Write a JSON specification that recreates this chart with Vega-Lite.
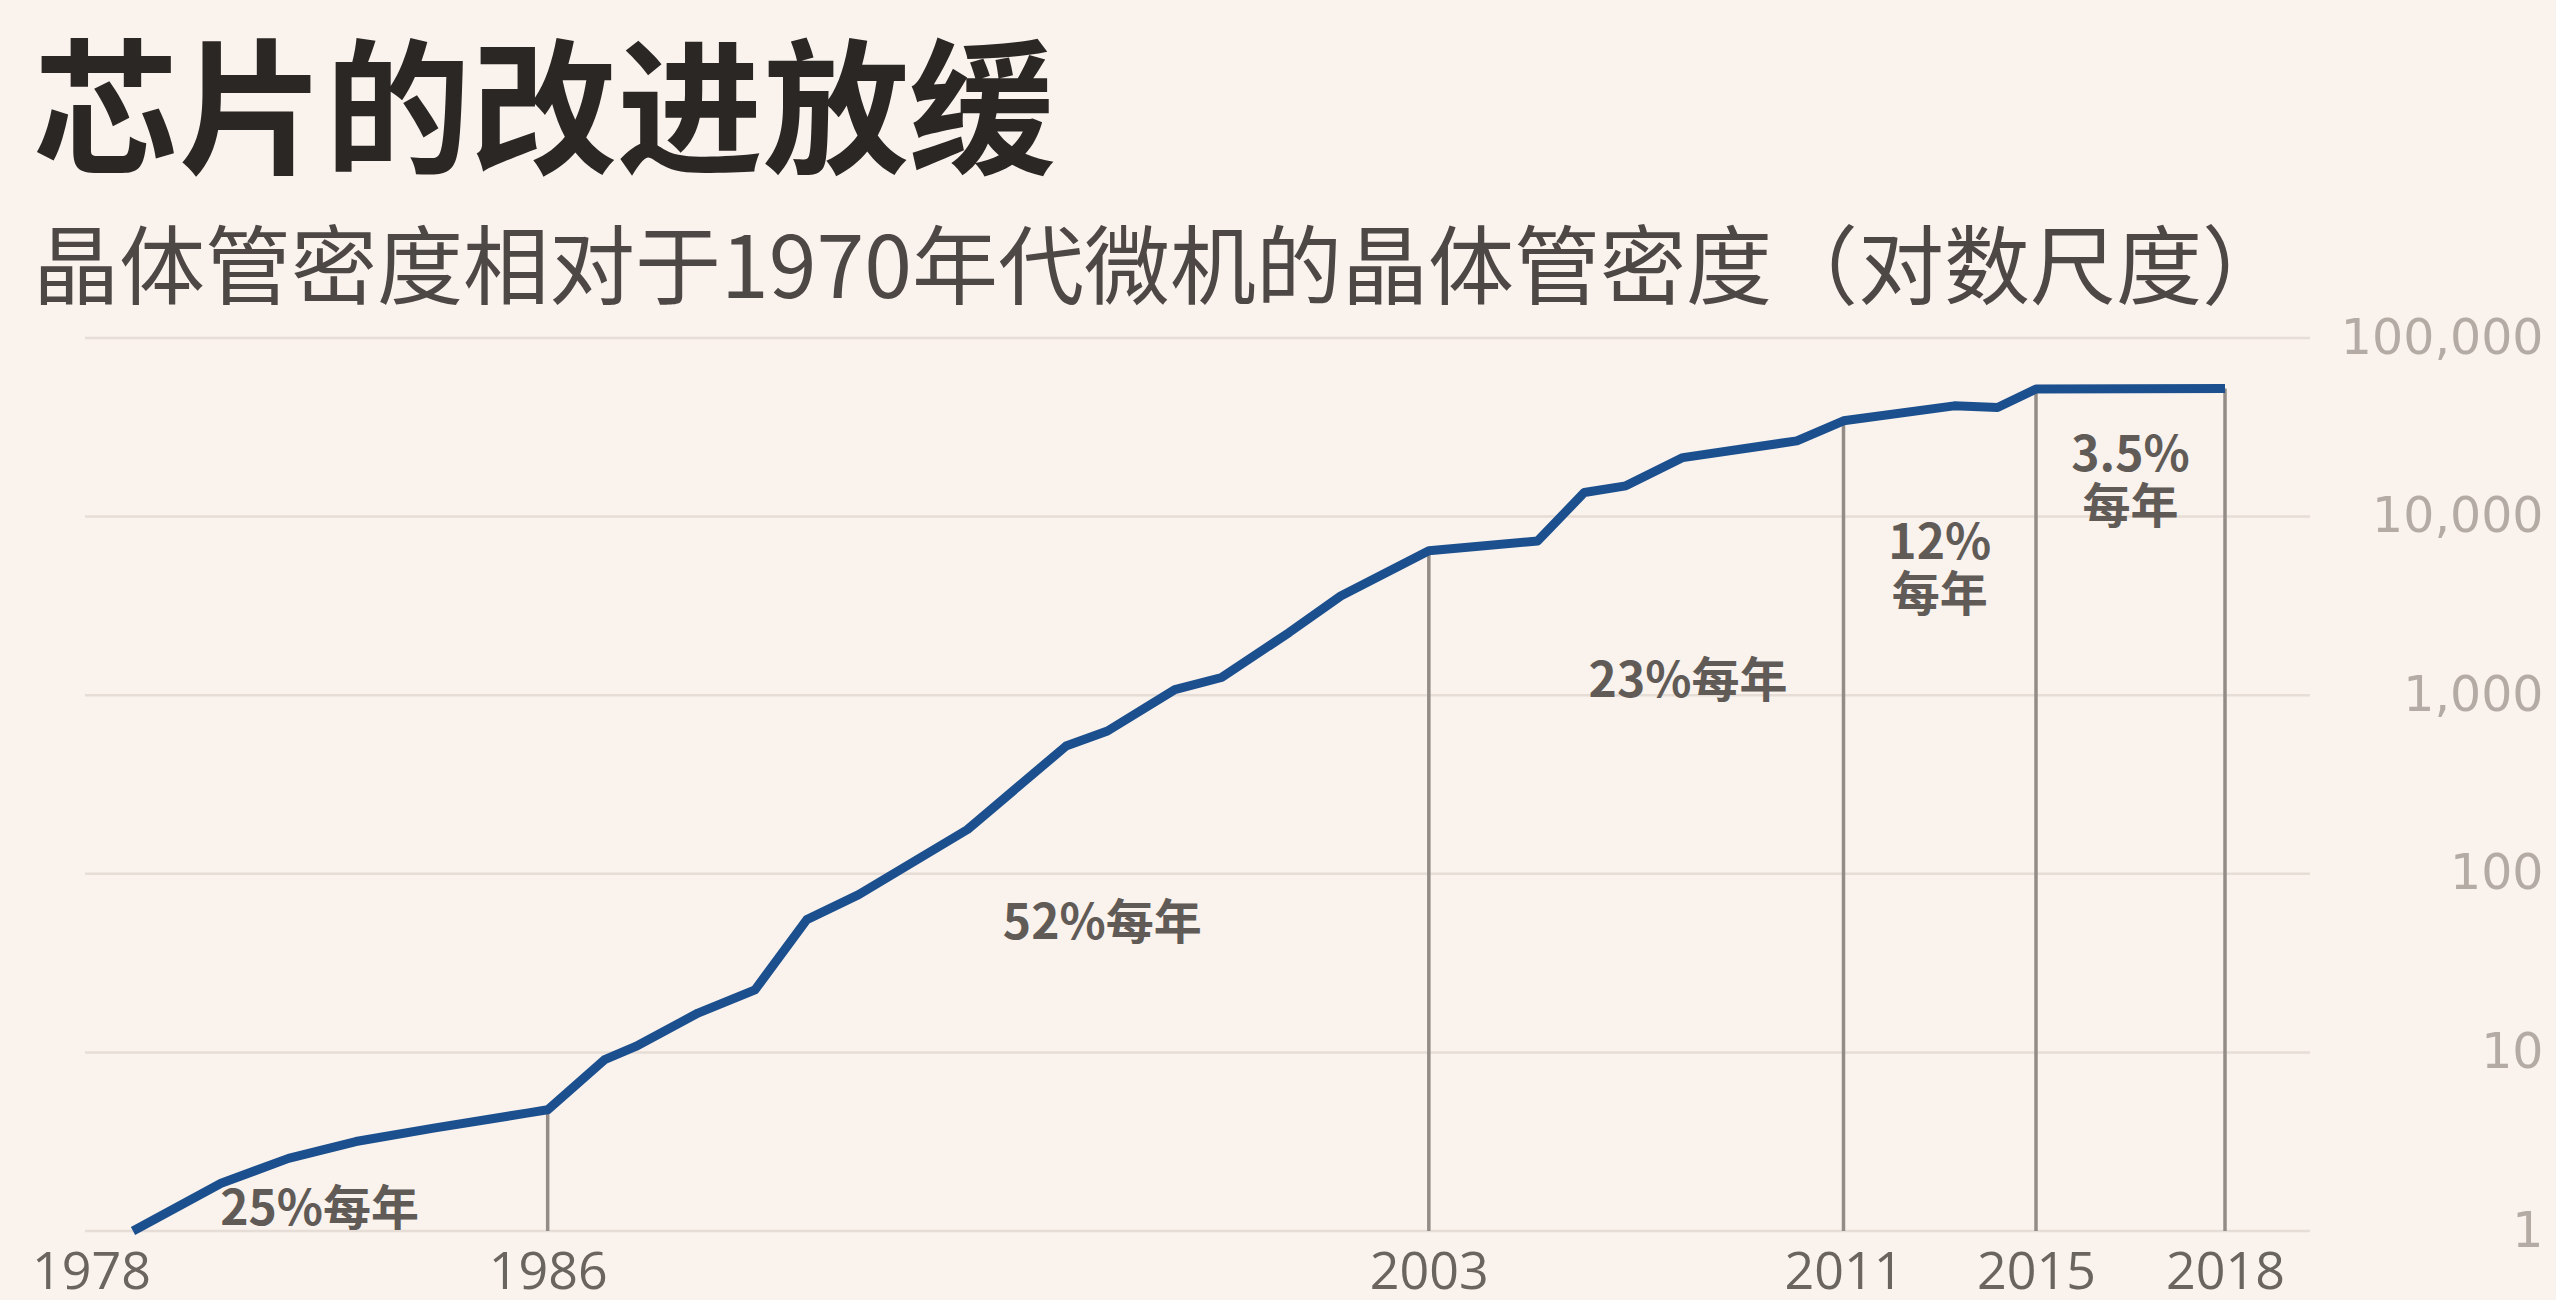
{
  "$schema": "https://vega.github.io/schema/vega-lite/v6.json",
  "width": 2225,
  "height": 893,
  "autosize": "none",
  "padding": {"left": 85, "top": 338, "right": 246, "bottom": 69},
  "background": "#f9f2ed",
  "title": {
    "text": "芯片的改进放缓",
    "subtitle": "晶体管密度相对于1970年代微机的晶体管密度（对数尺度）",
    "anchor": "start",
    "frame": "group",
    "dx": -52,
    "offset": -3,
    "font": "Noto Sans CJK SC",
    "fontSize": 146,
    "fontWeight": "bold",
    "color": "#2b2724",
    "subtitleFont": "Noto Sans CJK SC",
    "subtitleFontSize": 86,
    "subtitleFontWeight": "normal",
    "subtitleColor": "#4d4845",
    "subtitlePadding": 37
  },
  "config": {
    "view": {"stroke": null}
  },
  "datasets": {
    "grid": [
      {"value": 1}, {"value": 10}, {"value": 100}, {"value": 1000}, {"value": 10000}, {"value": 100000}
    ],
    "line": [
      {"year": 1978.0, "value": 1.0},
      {"year": 1979.7, "value": 1.85},
      {"year": 1981.0, "value": 2.55},
      {"year": 1982.3, "value": 3.17},
      {"year": 1983.8, "value": 3.77},
      {"year": 1985.6, "value": 4.57},
      {"year": 1986.0, "value": 4.77},
      {"year": 1987.1, "value": 9.1},
      {"year": 1987.7, "value": 10.8},
      {"year": 1988.9, "value": 16.6},
      {"year": 1990.0, "value": 22.4},
      {"year": 1991.0, "value": 55.4},
      {"year": 1992.0, "value": 76.4},
      {"year": 1994.1, "value": 177},
      {"year": 1996.0, "value": 519},
      {"year": 1996.8, "value": 630},
      {"year": 1998.1, "value": 1074},
      {"year": 1999.0, "value": 1256},
      {"year": 2000.3, "value": 2240},
      {"year": 2001.3, "value": 3594},
      {"year": 2003.0, "value": 6430},
      {"year": 2005.1, "value": 7310},
      {"year": 2006.0, "value": 13650},
      {"year": 2006.8, "value": 14870},
      {"year": 2007.9, "value": 21400},
      {"year": 2010.1, "value": 26550},
      {"year": 2011.0, "value": 34400},
      {"year": 2013.3, "value": 41700},
      {"year": 2014.2, "value": 40800},
      {"year": 2015.0, "value": 51800},
      {"year": 2018.0, "value": 52200}
    ],
    "rules": [
      {"year": 1986, "low": 1, "value": 4.77},
      {"year": 2003, "low": 1, "value": 6430},
      {"year": 2011, "low": 1, "value": 34400},
      {"year": 2015, "low": 1, "value": 51800},
      {"year": 2018, "low": 1, "value": 52200}
    ],
    "notes": [
      {"year": 1981.6, "value": 1.29, "label": "25%每年"},
      {"year": 1996.7, "value": 52, "label": "52%每年"},
      {"year": 2008.0, "value": 1165, "label": "23%每年"},
      {"year": 2013.0, "value": 6920, "label": "12%\n每年"},
      {"year": 2016.5, "value": 21500, "label": "3.5%\n每年"}
    ]
  },
  "layer": [
    {
      "data": {"name": "grid"},
      "mark": {"type": "rule", "color": "#e6ddd6", "strokeWidth": 2.5},
      "encoding": {
        "y": {
          "field": "value", "type": "quantitative",
          "scale": {"type": "log", "domain": [1, 100000], "nice": false},
          "axis": {
            "orient": "right",
            "values": [1, 10, 100, 1000, 10000, 100000],
            "format": ",",
            "title": null,
            "domain": false,
            "ticks": false,
            "grid": false,
            "labelFont": "DejaVu Sans",
            "labelFontSize": 49,
            "labelColor": "#b3aba4",
            "labelAlign": "right",
            "labelBaseline": "middle",
            "labelPadding": 233,
            "labelLimit": 600
          }
        }
      }
    },
    {
      "data": {"name": "rules"},
      "mark": {"type": "rule", "color": "#928b86", "strokeWidth": 3.5},
      "encoding": {
        "x": {
          "field": "year", "type": "quantitative",
          "scale": {"type": "linear", "domain": [1978, 2011, 2015, 2018], "range": [48, 1758.5, 1951, 2140], "nice": false, "zero": false},
          "axis": {
            "values": [1978, 1986, 2003, 2011, 2015, 2018],
            "format": "d",
            "title": null,
            "domain": false,
            "ticks": false,
            "grid": false,
            "labelFlush": false,
            "labelFont": "Open Sans",
            "labelFontSize": 52,
            "labelColor": "#6b6560",
            "labelPadding": 16,
            "labelOffset": {"condition": {"test": "datum.value == 1978", "value": -42}, "value": 0}
          }
        },
        "y": {"field": "low", "type": "quantitative"},
        "y2": {"field": "value"}
      }
    },
    {
      "data": {"name": "line"},
      "mark": {"type": "line", "color": "#1b4f8e", "strokeWidth": 9, "strokeJoin": "round"},
      "encoding": {
        "x": {"field": "year", "type": "quantitative"},
        "y": {"field": "value", "type": "quantitative"}
      }
    },
    {
      "data": {"name": "notes"},
      "mark": {"type": "text", "font": "Noto Sans CJK SC", "fontWeight": "bold", "fontSize": 48, "color": "#615b57", "align": "center", "baseline": "middle", "lineBreak": "\n", "lineHeight": 52},
      "encoding": {
        "x": {"field": "year", "type": "quantitative"},
        "y": {"field": "value", "type": "quantitative"},
        "text": {"field": "label", "type": "nominal"}
      }
    }
  ]
}
